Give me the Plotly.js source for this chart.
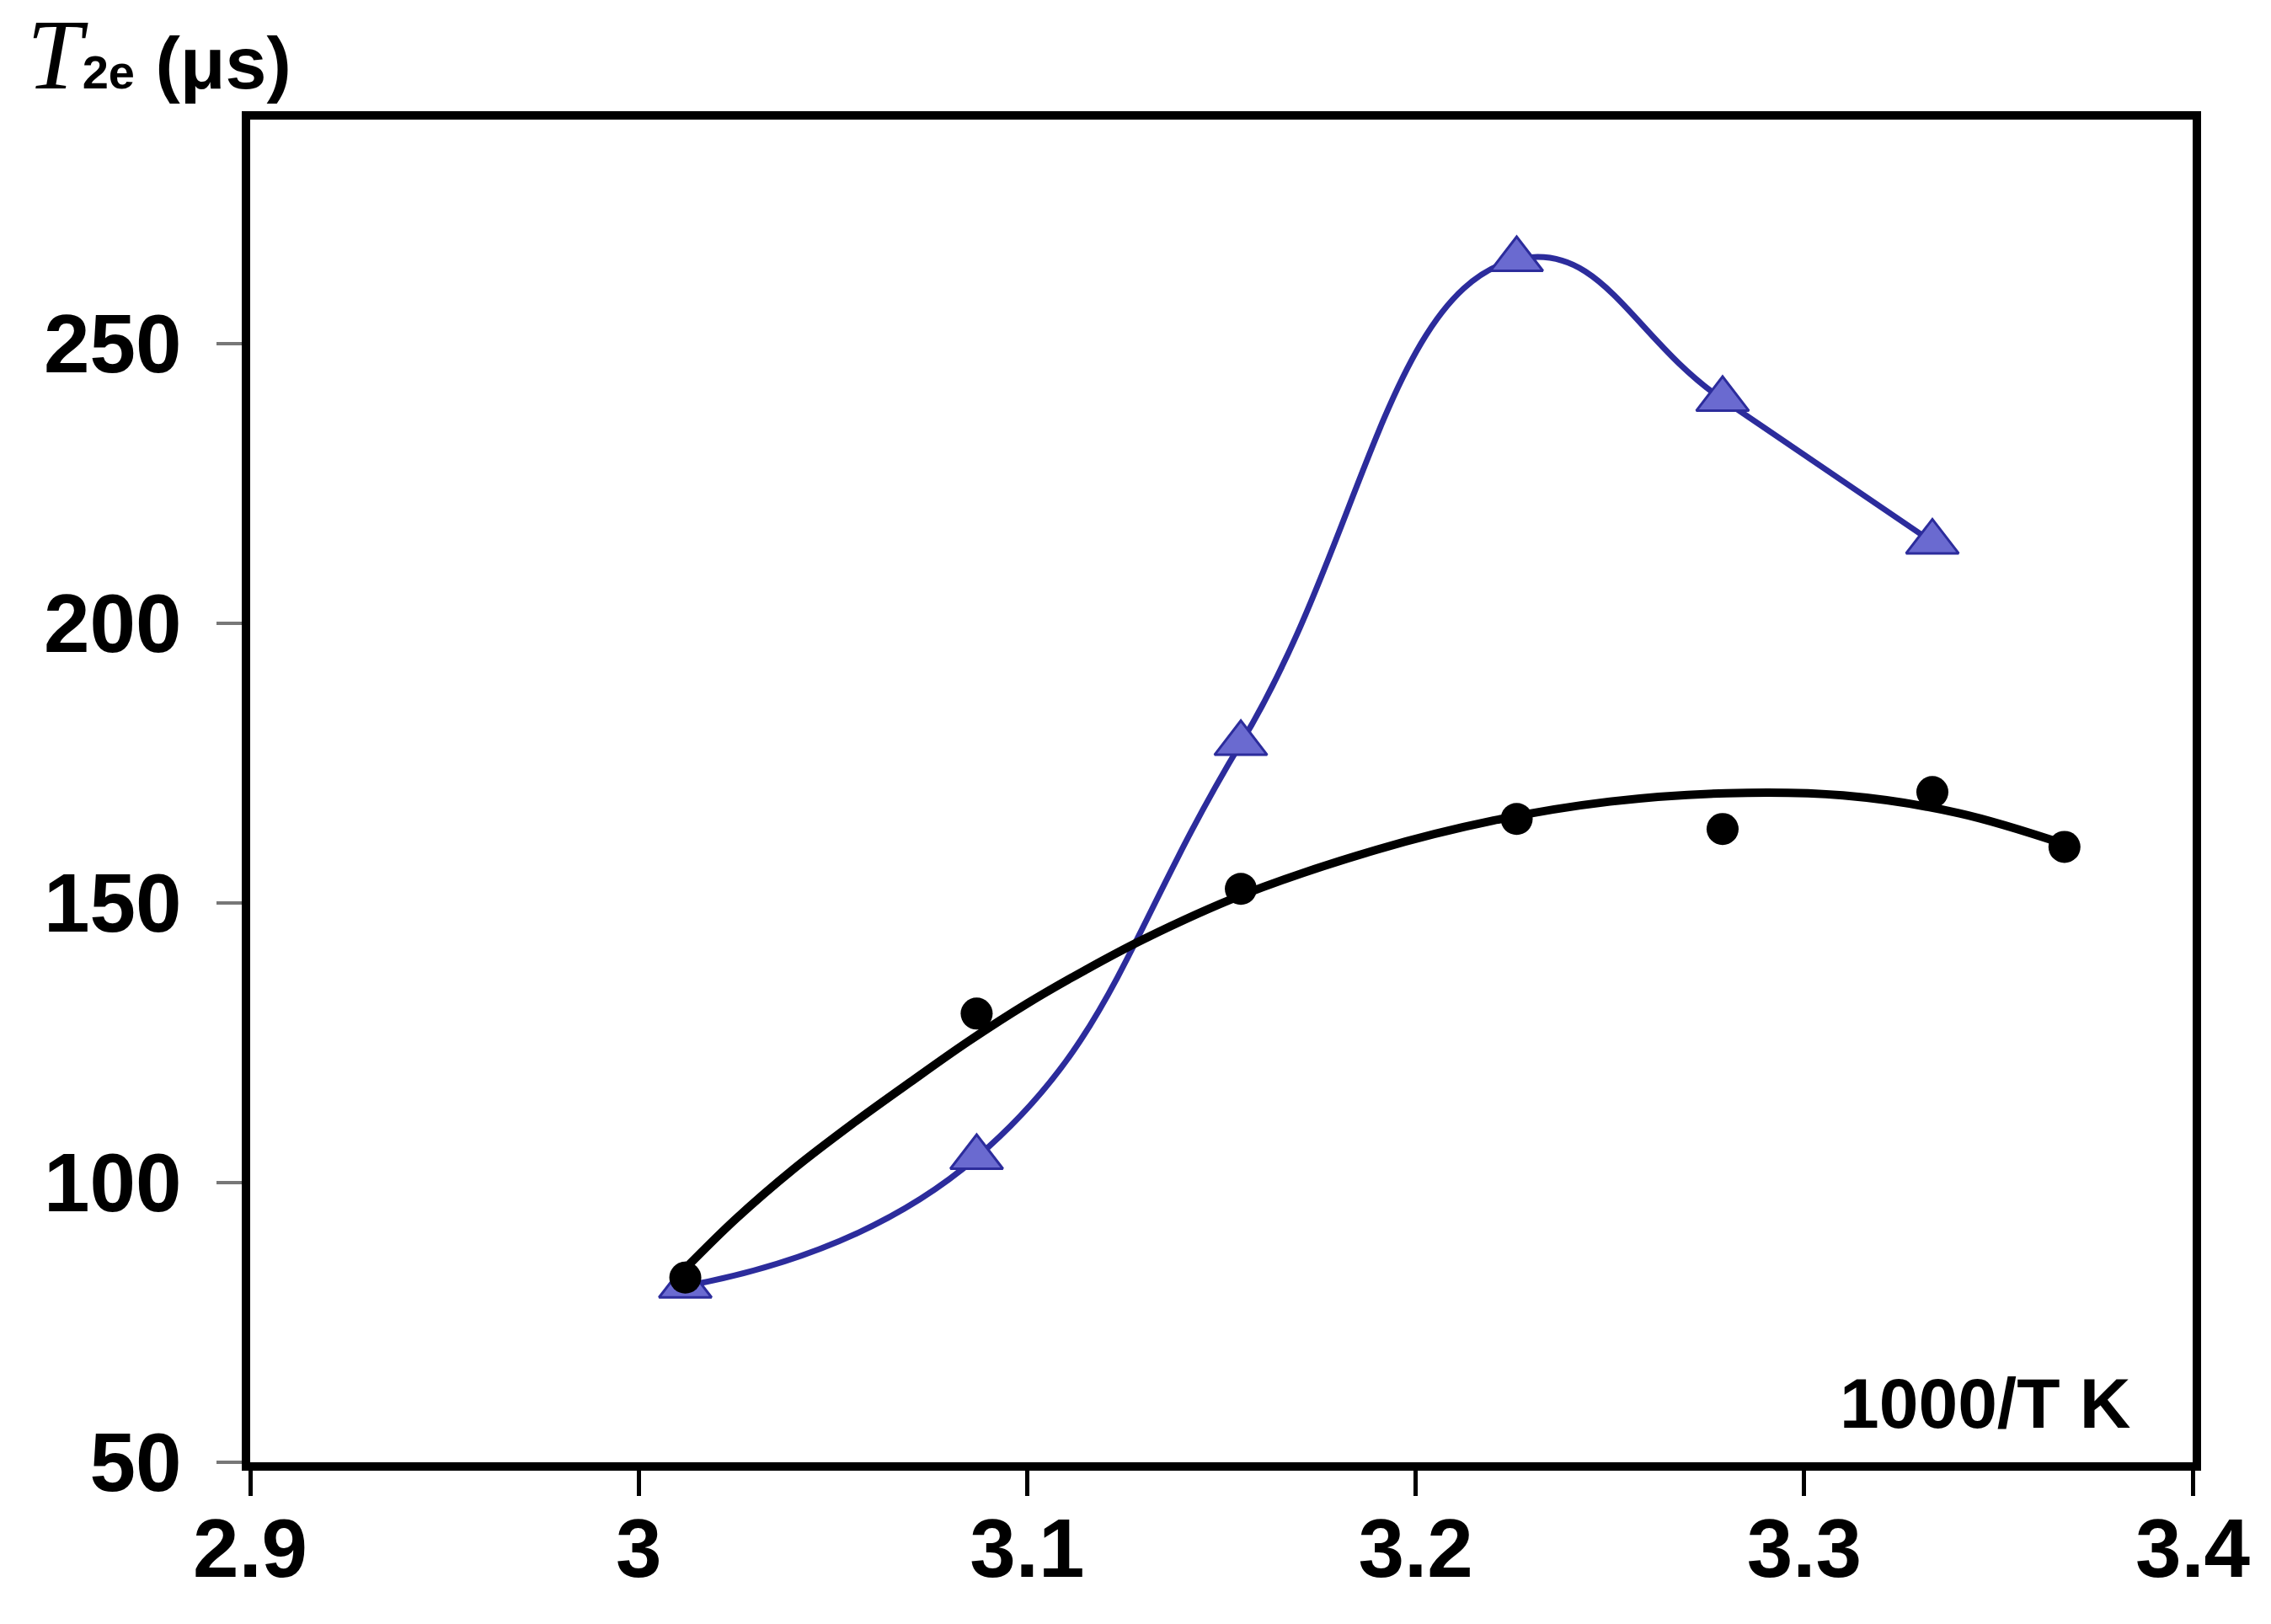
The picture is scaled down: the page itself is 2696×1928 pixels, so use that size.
<!DOCTYPE html>
<html>
<head>
<meta charset="utf-8">
<script src="https://cdn.plot.ly/plotly-3.0.1.min.js"></script>
<style>html,body{margin:0;padding:0;background:#fff;} #chart{width:2696px;height:1928px;}</style>
</head>
<body>
<div id="chart"></div>
<script>
// Data
const xCircles = [3.012, 3.087, 3.155, 3.226, 3.279, 3.333, 3.367];
const yCircles = [83, 130.2, 152.5, 165, 163.2, 169.8, 160];
const xTriangles = [3.012, 3.087, 3.155, 3.226, 3.279, 3.333];
const yTriangles = [81.5, 104.5, 178.5, 265, 240, 214.5];
// Black fitted curve
const fitX = [3.0125, 3.025, 3.04, 3.055, 3.07, 3.085, 3.1, 3.115, 3.13, 3.155, 3.19, 3.22, 3.25, 3.28, 3.31, 3.34, 3.367];
const fitY = [85, 93.5, 102.5, 110.5, 118, 125.3, 132, 138, 143.5, 151.3, 159.5, 164.7, 168.1, 169.6, 169.2, 166, 160.5];
const xTickVals = [2.9, 3.0, 3.1, 3.2, 3.3, 3.4];
const xTickText = ['2.9', '3', '3.1', '3.2', '3.3', '3.4'];
const yTickVals = [50, 100, 150, 200, 250];
const yTickText = ['50', '100', '150', '200', '250'];

const W = 2696, H = 1928;
const L = 297, R = 2603, T = 142, B = 1736;
const pw = R - L, ph = B - T;
const px = v => (v - L) / pw;
const py = v => (B - v) / ph;

const traces = [
  {
    x: xTriangles, y: yTriangles, type: 'scatter', mode: 'lines+markers',
    line: {color: '#2C2C9C', width: 7, shape: 'spline', smoothing: 1.3},
    marker: {symbol: 'triangle-up', size: 54, color: '#6A6AD0', line: {color: '#2C2C9C', width: 3}},
    showlegend: false, hoverinfo: 'skip'
  },
  {
    x: fitX, y: fitY, type: 'scatter', mode: 'lines',
    line: {color: '#000000', width: 10, shape: 'spline', smoothing: 1},
    showlegend: false, hoverinfo: 'skip'
  },
  {
    x: xCircles, y: yCircles, type: 'scatter', mode: 'markers',
    marker: {symbol: 'circle', size: 38, color: '#000000'},
    showlegend: false, hoverinfo: 'skip'
  }
];

const tickFont = {family: 'Liberation Sans, Arial, sans-serif', size: 98, color: '#000', weight: 'bold'};

const layout = {
  width: W, height: H,
  margin: {l: L, r: W - R, t: T, b: H - B, pad: 0},
  paper_bgcolor: '#fff', plot_bgcolor: '#fff',
  showlegend: false,
  xaxis: {
    range: [2.9, 3.4], tickmode: 'array', tickvals: xTickVals, ticktext: xTickText,
    showgrid: false, zeroline: false,
    showline: true, linecolor: '#000', linewidth: 10, mirror: true,
    ticks: 'outside', ticklen: 30, tickwidth: 5, tickcolor: '#000',
    tickfont: tickFont, ticklabelstandoff: -22
  },
  yaxis: {
    range: [50, 290], tickmode: 'array', tickvals: yTickVals, ticktext: yTickText,
    showgrid: false, zeroline: false,
    showline: true, linecolor: '#000', linewidth: 10, mirror: true,
    ticks: 'outside', ticklen: 30, tickwidth: 4, tickcolor: '#777',
    tickfont: tickFont, ticklabelstandoff: 22
  },
  annotations: [
    {
      xref: 'paper', yref: 'paper', x: px(2532), y: py(1666),
      xanchor: 'right', yanchor: 'middle', showarrow: false,
      text: '1000/T K',
      font: {family: 'Liberation Sans, Arial, sans-serif', size: 84, color: '#000', weight: 'bold'}
    },
    {
      xref: 'paper', yref: 'paper', x: px(30), y: py(66),
      xanchor: 'left', yanchor: 'middle', showarrow: false,
      text: '<span style="font-family:Liberation Serif;font-style:italic;font-weight:normal;font-size:118px">T</span><span style="font-size:56px">2e</span> (μs)',
      font: {family: 'Liberation Sans, Arial, sans-serif', size: 88, color: '#000', weight: 'bold'}
    }
  ]
};

Plotly.newPlot('chart', traces, layout, {staticPlot: true, displayModeBar: false});
</script>
</body>
</html>
